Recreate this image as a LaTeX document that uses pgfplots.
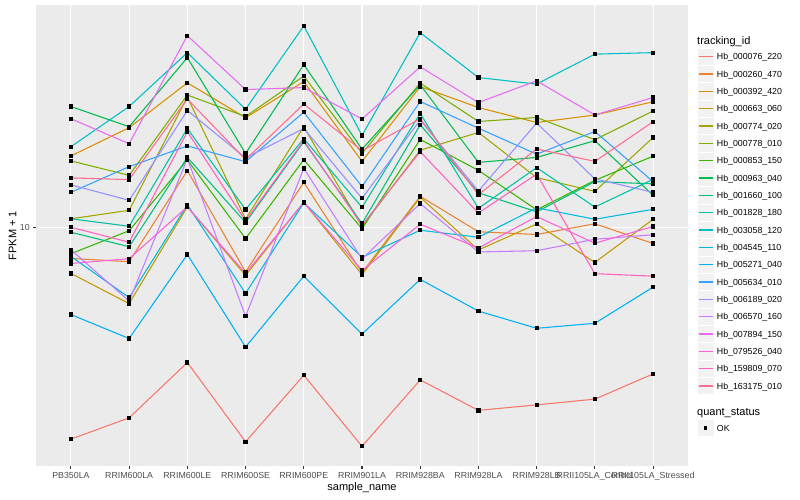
\documentclass[border=0pt]{standalone}
\usepackage{fontspec}
\setmainfont{Liberation Sans}
\usepackage{pgfplots}
\usepackage{pgfplotstable}
\pgfplotsset{compat=1.18}

% ggplot hue palette, 20 levels
\definecolor{c01}{HTML}{F8766D}
\definecolor{c02}{HTML}{EA8331}
\definecolor{c03}{HTML}{D89000}
\definecolor{c04}{HTML}{C09B00}
\definecolor{c05}{HTML}{A3A500}
\definecolor{c06}{HTML}{7CAE00}
\definecolor{c07}{HTML}{39B600}
\definecolor{c08}{HTML}{00BB4E}
\definecolor{c09}{HTML}{00BF7D}
\definecolor{c10}{HTML}{00C1A3}
\definecolor{c11}{HTML}{00BFC4}
\definecolor{c12}{HTML}{00BAE0}
\definecolor{c13}{HTML}{00B0F6}
\definecolor{c14}{HTML}{35A2FF}
\definecolor{c15}{HTML}{9590FF}
\definecolor{c16}{HTML}{C77CFF}
\definecolor{c17}{HTML}{E76BF3}
\definecolor{c18}{HTML}{FA62DB}
\definecolor{c19}{HTML}{FF62BC}
\definecolor{c20}{HTML}{FF6C91}
\definecolor{panel}{HTML}{EBEBEB}
\definecolor{keybg}{HTML}{F2F2F2}
\definecolor{grey30}{HTML}{4D4D4D}
\definecolor{grey20}{HTML}{333333}

% log10(FPKM + 1), one column per tracking_id, one row per sample
\pgfplotstableread{
x s01 s02 s03 s04 s05 s06 s07 s08 s09 s10 s11 s12 s13 s14 s15 s16 s17 s18 s19 s20
0 0.152 0.876 1.287 0.816 1.035 1.267 0.895 1.485 0.981 1.035 1.324 0.884 0.651 1.141 1.171 0.911 1.436 0.856 1.001 1.199
1 0.237 0.863 1.400 0.695 1.069 1.209 0.987 1.404 0.923 1.005 1.485 0.719 0.555 1.244 1.109 0.705 1.336 0.875 0.941 1.192
2 0.459 1.228 1.580 1.083 1.523 1.531 1.271 1.681 1.281 1.397 1.701 1.091 0.892 1.327 1.469 1.276 1.769 1.083 1.384 1.515
3 0.141 0.822 1.440 0.808 1.034 1.445 0.956 1.297 1.020 1.072 1.474 0.736 0.521 1.264 1.279 0.644 1.553 0.816 1.027 1.272
4 0.408 1.181 1.585 1.101 1.404 1.607 1.272 1.653 1.344 1.356 1.808 1.099 0.805 1.462 1.397 1.237 1.561 1.101 1.348 1.495
5 0.123 0.819 1.265 0.811 1.004 1.297 0.995 1.314 1.016 1.081 1.369 0.881 0.573 1.164 1.117 0.874 1.435 0.828 1.009 1.308
6 0.389 1.125 1.565 1.121 1.310 1.579 1.353 1.572 1.412 1.457 1.781 0.989 0.792 1.505 1.431 1.096 1.644 1.013 1.304 1.436
7 0.267 0.983 1.481 0.910 1.381 1.425 1.229 1.261 1.139 1.077 1.601 0.961 0.665 1.398 1.146 0.902 1.501 0.918 1.058 1.132
8 0.289 0.972 1.421 1.014 1.200 1.441 1.071 1.281 1.063 1.240 1.575 1.079 0.596 1.294 1.419 0.907 1.588 1.044 1.214 1.315
9 0.312 1.015 1.451 0.860 1.145 1.352 1.189 1.348 1.184 1.082 1.695 1.033 0.616 1.385 1.195 0.953 1.451 0.937 0.815 1.265
10 0.413 0.936 1.504 1.033 1.361 1.467 1.286 1.129 1.175 1.193 1.701 1.073 0.761 1.184 1.141 0.971 1.521 1.004 0.805 1.424
}\fpkm

\begin{document}
\begin{tikzpicture}[x=1pt,y=1pt]
\begin{axis}[
  set layers, mark layer=axis foreground,
  at={(36pt,34pt)}, anchor=south west,
  scale only axis, width=652pt, height=461pt,
  xmin=-0.6, xmax=10.6, ymin=0.044, ymax=1.892,
  axis background/.style={fill=panel},
  axis line style={draw=none},
  xtick={0,...,10},
  xticklabels={PB350LA,RRIM600LA,RRIM600LE,RRIM600SE,RRIM600PE,RRIM901LA,RRIM928BA,RRIM928LA,RRIM928LB,RRII105LA\_Control,RRII105LA\_Stressed},
  ytick={1}, yticklabels={10},
  xtick pos=bottom, ytick pos=left,
  grid=major, major grid style={white, line width=1.07pt},
  tick align=outside, major tick length=2.75pt,
  tick style={grey20, line width=1.07pt},
  ticklabel style={font=\fontsize{8.8}{10}\selectfont, text=grey30},
  xlabel={sample\_name}, ylabel={FPKM + 1},
  label style={font=\fontsize{11}{13}\selectfont, inner sep=0pt},
  xlabel style={at={(axis description cs:0.5,-0.0542)}, anchor=base},
  ylabel style={at={(axis description cs:-0.0296,0.5)}, anchor=south, rotate=0},
  every axis plot/.append style={line width=1.07pt, mark=square*, mark size=1.6pt, mark options={black}},
]
\addplot[c01] table[x=x, y=s01] {\fpkm};
\addplot[c02] table[x=x, y=s02] {\fpkm};
\addplot[c03] table[x=x, y=s03] {\fpkm};
\addplot[c04] table[x=x, y=s04] {\fpkm};
\addplot[c05] table[x=x, y=s05] {\fpkm};
\addplot[c06] table[x=x, y=s06] {\fpkm};
\addplot[c07] table[x=x, y=s07] {\fpkm};
\addplot[c08] table[x=x, y=s08] {\fpkm};
\addplot[c09] table[x=x, y=s09] {\fpkm};
\addplot[c10] table[x=x, y=s10] {\fpkm};
\addplot[c11] table[x=x, y=s11] {\fpkm};
\addplot[c12] table[x=x, y=s12] {\fpkm};
\addplot[c13] table[x=x, y=s13] {\fpkm};
\addplot[c14] table[x=x, y=s14] {\fpkm};
\addplot[c15] table[x=x, y=s15] {\fpkm};
\addplot[c16] table[x=x, y=s16] {\fpkm};
\addplot[c17] table[x=x, y=s17] {\fpkm};
\addplot[c18] table[x=x, y=s18] {\fpkm};
\addplot[c19] table[x=x, y=s19] {\fpkm};
\addplot[c20] table[x=x, y=s20] {\fpkm};
\end{axis}

% legend: tracking_id
\node[anchor=base west, inner sep=0pt, font=\fontsize{11}{13}\selectfont] at (697,455.5) {tracking\_id};
\foreach \col/\name [count=\i from 0] in {
  c01/Hb\_000076\_220, c02/Hb\_000260\_470, c03/Hb\_000392\_420, c04/Hb\_000663\_060,
  c05/Hb\_000774\_020, c06/Hb\_000778\_010, c07/Hb\_000853\_150, c08/Hb\_000963\_040,
  c09/Hb\_001660\_100, c10/Hb\_001828\_180, c11/Hb\_003058\_120, c12/Hb\_004545\_110,
  c13/Hb\_005271\_040, c14/Hb\_005634\_010, c15/Hb\_006189\_020, c16/Hb\_006570\_160,
  c17/Hb\_007894\_150, c18/Hb\_079526\_040, c19/Hb\_159809\_070, c20/Hb\_163175\_010}{
  \pgfmathsetmacro\yy{500-56.7-17.33*\i}
  \filldraw[fill=keybg, draw=white, line width=0.5] (697,\yy-8.64) rectangle (714.28,\yy+8.64);
  \draw[\col, line width=1.07] (698.7,\yy) -- (712.6,\yy);
  \node[anchor=base west, inner sep=0pt, font=\fontsize{8.8}{10}\selectfont] at (716.7,\yy-3.1) {\name};
}
% legend: quant_status
\node[anchor=base west, inner sep=0pt, font=\fontsize{11}{13}\selectfont] at (697,84) {quant\_status};
\filldraw[fill=keybg, draw=white, line width=0.5] (697,63.36) rectangle (714.28,80.64);
\fill[black] (704.04,70.4) rectangle (707.24,73.6);
\node[anchor=base west, inner sep=0pt, font=\fontsize{8.8}{10}\selectfont] at (716.7,68.9) {OK};
% page extent
\path (0,0) rectangle (800,500);
\end{tikzpicture}
\end{document}
